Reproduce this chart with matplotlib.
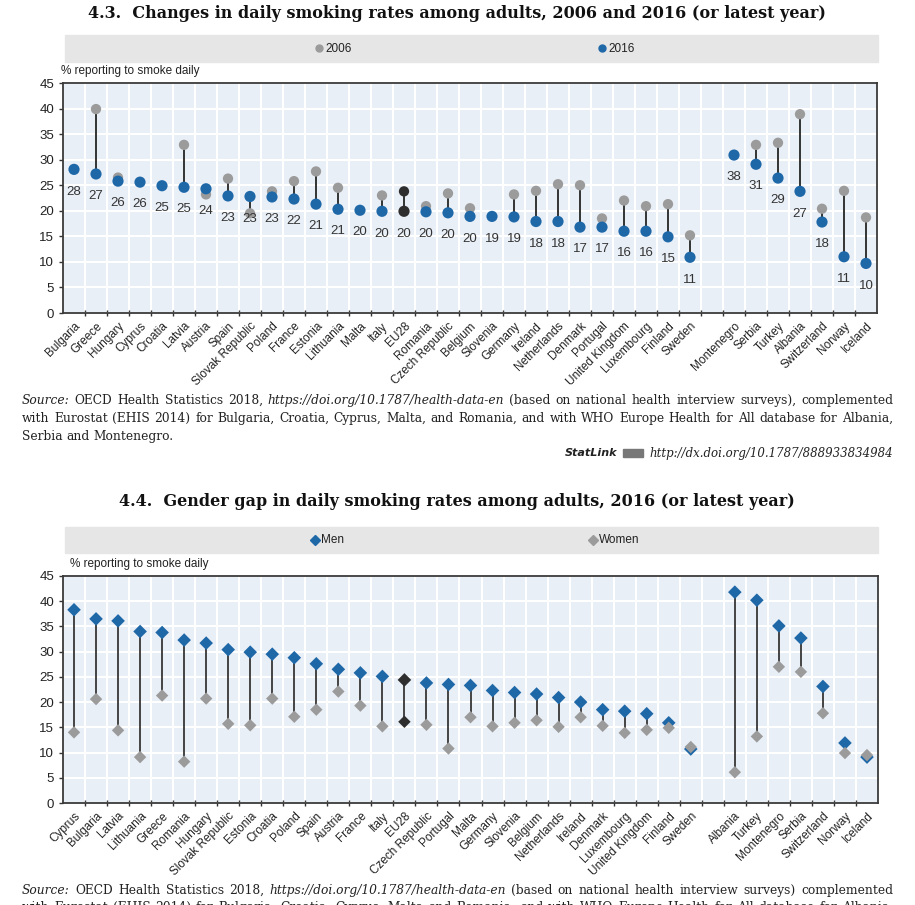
import numpy as np
import matplotlib
matplotlib.use("Agg")
import matplotlib.pyplot as plt
from matplotlib import font_manager
from matplotlib.patches import Rectangle

nan = np.nan

# 4.3 data
countries_43 = ["Bulgaria", "Greece", "Hungary", "Cyprus", "Croatia", "Latvia", "Austria", "Spain",
                "Slovak Republic", "Poland", "France", "Estonia", "Lithuania", "Malta", "Italy", "EU28",
                "Romania", "Czech Republic", "Belgium", "Slovenia", "Germany", "Ireland", "Netherlands",
                "Denmark", "Portugal", "United Kingdom", "Luxembourg", "Finland", "Sweden", "",
                "Montenegro", "Serbia", "Turkey", "Albania", "Switzerland", "Norway", "Iceland"]
rate_2006 = [nan, 39.9, 26.5, nan, nan, 32.9, 23.2, 26.3, 19.5, 23.8, 25.8, 27.7, 24.5, nan, 23.0, 23.8,
             20.9, 23.4, 20.5, nan, 23.2, 23.9, 25.2, 25.0, 18.5, 22.0, 20.9, 21.3, 15.2, nan,
             nan, 32.9, 33.3, 38.9, 20.4, 23.9, 18.7]
rate_2016 = [28.1, 27.2, 25.8, 25.6, 24.9, 24.6, 24.3, 22.9, 22.8, 22.7, 22.3, 21.3, 20.3, 20.1, 19.9, 19.9,
             19.8, 19.6, 18.9, 18.9, 18.8, 17.9, 17.9, 16.8, 16.8, 16.0, 16.0, 14.9, 10.9, nan,
             30.9, 29.1, 26.4, 23.8, 17.8, 11.0, 9.7]
labels_2016 = ["28", "27", "26", "26", "25", "25", "24", "23", "23", "23", "22", "21", "21", "20", "20", "20",
               "20", "20", "20", "19", "19", "18", "18", "17", "17", "16", "16", "15", "11", "",
               "38", "31", "29", "27", "18", "11", "10"]

# 4.4 data
countries_44 = ["Cyprus", "Bulgaria", "Latvia", "Lithuania", "Greece", "Romania", "Hungary", "Slovak Republic",
                "Estonia", "Croatia", "Poland", "Spain", "Austria", "France", "Italy", "EU28", "Czech Republic",
                "Portugal", "Malta", "Germany", "Slovenia", "Belgium", "Netherlands", "Ireland", "Denmark",
                "Luxembourg", "United Kingdom", "Finland", "Sweden", "",
                "Albania", "Turkey", "Montenegro", "Serbia", "Switzerland", "Norway", "Iceland"]
men = [38.3, 36.5, 36.1, 34.0, 33.8, 32.3, 31.7, 30.4, 29.9, 29.5, 28.8, 27.6, 26.5, 25.8, 25.1, 24.4, 23.8,
       23.5, 23.3, 22.3, 21.9, 21.6, 20.9, 20.0, 18.5, 18.2, 17.7, 15.9, 10.7, nan,
       41.8, 40.2, 35.1, 32.7, 23.1, 11.9, 9.1]
women = [14.0, 20.6, 14.4, 9.1, 21.3, 8.2, 20.7, 15.7, 15.4, 20.7, 17.1, 18.5, 22.1, 19.3, 15.2, 16.1, 15.5,
         10.8, 17.0, 15.2, 15.9, 16.4, 15.1, 17.0, 15.3, 13.9, 14.5, 14.9, 11.1, nan,
         6.1, 13.2, 27.0, 26.0, 17.8, 9.9, 9.5]

BLUE = "#1f68a8"
GREY = "#9b9b9b"
DARK = "#2e2e2e"
BG = "#e9eff7"

names = {f.name for f in font_manager.fontManager.ttflist}
SANS = "Liberation Sans Narrow" if "Liberation Sans Narrow" in names else "Liberation Sans"
SERIF = "DejaVu Serif"
W, H = 915, 905

fig = plt.figure(figsize=(W / 100, H / 100), dpi=100)
renderer = fig.canvas.get_renderer()


def fx(x):
    return x / W


def fy(y):
    return 1 - y / H


def setup_axes(rect_px, labels):
    x0, y0, x1, y1 = rect_px
    ax = fig.add_axes([fx(x0), fy(y1), (x1 - x0) / W, (y1 - y0) / H])
    n = len(labels)
    ax.set_facecolor(BG)
    ax.set_xlim(-0.5, n - 0.5)
    ax.set_ylim(0, 45)
    ax.set_yticks(range(0, 50, 5))
    ax.set_xticks(np.arange(n))
    ax.set_xticklabels(labels, rotation=45, ha="right", va="top", rotation_mode="anchor",
                       fontsize=8.5, family=SANS, color="#222222")
    ax.set_xticks(np.arange(n - 1) + 0.5, minor=True)
    ax.tick_params(axis="x", which="major", length=0, pad=5)
    ax.tick_params(axis="x", which="minor", length=4, direction="inout", width=1, color="#333333")
    ax.tick_params(axis="y", length=3, width=1, color="#333333", labelsize=9.5, labelcolor="#222222")
    for t in ax.get_yticklabels():
        t.set_family(SANS)
    ax.grid(True, which="minor", axis="x", color="white", lw=1.5)
    ax.grid(True, which="major", axis="y", color="white", lw=1.5)
    ax.set_axisbelow(True)
    for s in ax.spines.values():
        s.set_color("#3a3a3a")
        s.set_linewidth(1.3)
    return ax


def legend_band(y0, y1, items):
    fig.patches.append(Rectangle((fx(65), fy(y1)), (878 - 65) / W, (y1 - y0) / H,
                                 transform=fig.transFigure, color="#e6e6e6", zorder=0))
    yc = fy((y0 + y1) / 2)
    for xm, marker, color, label in items:
        fig.lines.append(plt.Line2D([fx(xm)], [yc], marker=marker, color=color, ms=5,
                                    transform=fig.transFigure))
        fig.text(fx(xm + 6), yc, label, fontsize=8.5, family=SANS, va="center", ha="left", color="#222222")


def rich_line(y_px, segments, justify=True, size=8.8, x0=22, x1=893):
    words = [(w, st) for text, st in segments for w in text.split()]
    objs, widths = [], []
    for w, st in words:
        t = fig.text(0, fy(y_px), w, fontsize=size, family=SERIF, style=st, va="center", ha="left",
                     color="#222222")
        objs.append(t)
        widths.append(t.get_window_extent(renderer).width)
    space = size * 0.3 * 100 / 72
    gap = space
    if justify:
        gap = max((x1 - x0 - sum(widths)) / (len(words) - 1), 1.0)
    x = x0
    for t, w in zip(objs, widths):
        t.set_x(fx(x))
        x += w + gap


# ---------- 4.3 ----------
fig.text(fx(457), fy(13), "4.3.  Changes in daily smoking rates among adults, 2006 and 2016 (or latest year)",
         ha="center", va="center", fontsize=11.5, family="DejaVu Serif", weight="bold", color="#111111")
legend_band(35, 62, [(319, "o", GREY, "2006"), (602, "o", BLUE, "2016")])
fig.text(fx(61), fy(71), "% reporting to smoke daily", fontsize=8.5, family=SANS, va="center",
         ha="left", color="#222222")

ax1 = setup_axes((63, 83, 877, 313), countries_43)
x = np.arange(len(countries_43))
a06 = np.array(rate_2006)
a16 = np.array(rate_2016)
eu = np.array([c == "EU28" for c in countries_43])
both = ~np.isnan(a06) & ~np.isnan(a16)
ax1.vlines(x[both], a16[both], a06[both], color="#333333", lw=1.4, zorder=2)
ax1.scatter(x, a06, s=55, color=np.where(eu, DARK, GREY), zorder=3, linewidths=0)
ax1.scatter(x, a16, s=65, color=np.where(eu, DARK, BLUE), zorder=4, linewidths=0)
for xi, yi, lab in zip(x, a16, labels_2016):
    if lab:
        ax1.annotate(lab, (xi, yi), xytext=(0, -16), textcoords="offset points", ha="center",
                     va="center", fontsize=9.5, family=SANS, color="#333333")

rich_line(400, [("Source:", "italic"), ("OECD Health Statistics 2018,", "normal"),
                ("https://doi.org/10.1787/health-data-en", "italic"),
                ("(based on national health interview surveys), complemented", "normal")])
rich_line(418, [("with Eurostat (EHIS 2014) for Bulgaria, Croatia, Cyprus, Malta, and Romania, and with WHO "
                 "Europe Health for All database for Albania,", "normal")])
rich_line(436, [("Serbia and Montenegro.", "normal")], justify=False)

url = fig.text(fx(893), fy(453), "http://dx.doi.org/10.1787/888933834984", fontsize=8.5, family=SERIF,
               style="italic", ha="right", va="center", color="#222222")
uw = url.get_window_extent(renderer).width
icon_x = 893 - uw - 26
fig.patches.append(Rectangle((fx(icon_x), fy(457)), 20 / W, 8 / H, transform=fig.transFigure,
                             color="#777777", zorder=1))
fig.text(fx(icon_x - 6), fy(453), "StatLink", fontsize=8, family="DejaVu Sans", weight="bold",
         style="italic", ha="right", va="center", color="#222222")

# ---------- 4.4 ----------
fig.text(fx(457), fy(502), "4.4.  Gender gap in daily smoking rates among adults, 2016 (or latest year)",
         ha="center", va="center", fontsize=11.5, family="DejaVu Serif", weight="bold", color="#111111")
legend_band(527, 553, [(315, "D", BLUE, "Men"), (593, "D", GREY, "Women")])
fig.text(fx(70), fy(564), "% reporting to smoke daily", fontsize=8.5, family=SANS, va="center",
         ha="left", color="#222222")

ax2 = setup_axes((63, 576, 878, 803), countries_44)
x = np.arange(len(countries_44))
am = np.array(men)
aw = np.array(women)
eu = np.array([c == "EU28" for c in countries_44])
both = ~np.isnan(am) & ~np.isnan(aw)
ax2.vlines(x[both], aw[both], am[both], color="#444444", lw=1.4, zorder=2)
ax2.scatter(x, am, s=48, marker="D", color=np.where(eu, DARK, BLUE), zorder=3, linewidths=0)
ax2.scatter(x, aw, s=40, marker="D", color=np.where(eu, DARK, GREY), zorder=4, linewidths=0)

rich_line(890, [("Source:", "italic"), ("OECD Health Statistics 2018,", "normal"),
                ("https://doi.org/10.1787/health-data-en", "italic"),
                ("(based on national health interview surveys) complemented", "normal")])
rich_line(907, [("with Eurostat (EHIS 2014) for Bulgaria, Croatia, Cyprus, Malta and Romania, and with WHO "
                 "Europe Health for All database for Albania,", "normal")])

fig.savefig("out.png", dpi=100)
